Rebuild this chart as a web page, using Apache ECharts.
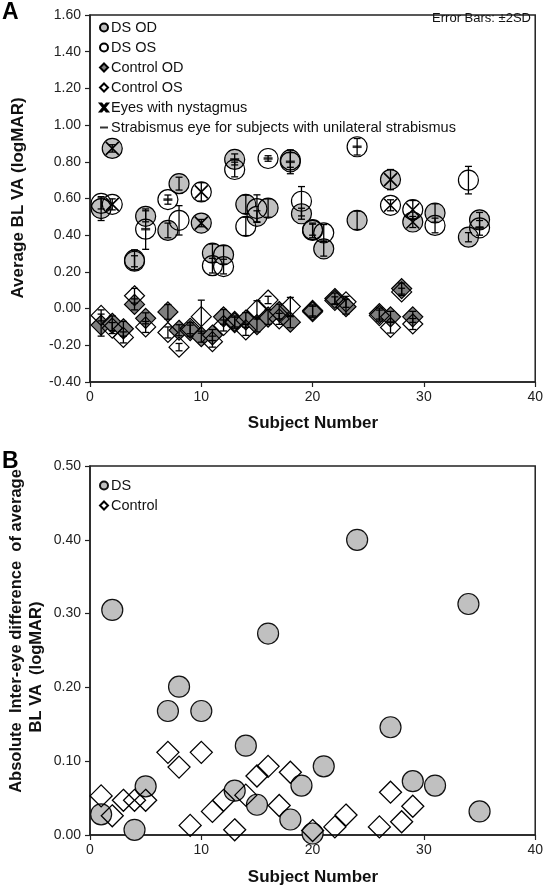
<!DOCTYPE html>
<html><head><meta charset="utf-8">
<script src="https://cdn.jsdelivr.net/npm/echarts@6/dist/echarts.min.js"></script>
<style>html,body{margin:0;padding:0;background:#fff}#c{width:546px;height:889px}</style>
</head><body><div id="c"></div>
<script>
// ---------- DATA ----------
const dsSubjects = [1,2,4,5,7,8,10,11,12,13,14,15,16,18,19,20,21,24,27,29,31,34,35];
const dsOD      = [0.545,0.873,0.265,0.503,0.426,0.681,0.466,0.302,0.293,0.813,0.568,0.503,0.548,0.800,0.517,0.426,0.326,0.481,0.703,0.472,0.521,0.389,0.484];
const dsODErr   = [0.065,0.020,0.055,0.030,0.040,0.035,0.020,0.050,0.050,0.030,0.050,0.030,0.050,0.065,0.030,0.040,0.040,0.050,0.055,0.030,0.050,0.025,0.040];
const dsOS      = [0.573,0.568,0.258,0.433,0.594,0.481,0.636,0.234,0.229,0.758,0.448,0.545,0.818,0.810,0.585,0.430,0.413,0.882,0.563,0.539,0.453,0.700,0.440];
const dsOSErr   = [0.030,0.030,0.030,0.110,0.025,0.080,0.050,0.040,0.040,0.040,0.050,0.075,0.015,0.040,0.080,0.030,0.045,0.045,0.030,0.050,0.040,0.075,0.040];

const ctrlSubjects = [1,2,3,4,5,7,8,9,10,11,12,13,14,15,16,17,18,20,22,23,26,27,28,29];
const ctrlOD    = [-0.090,-0.080,-0.110,0.023,-0.053,-0.018,-0.118,-0.120,-0.153,-0.144,-0.045,-0.070,-0.062,-0.087,-0.046,-0.016,-0.074,-0.010,0.055,0.010,-0.027,-0.045,0.109,-0.045];
const ctrlODErr = [0.060,0.040,0.040,0.030,0.030,0.040,0.030,0.030,0.030,0.030,0.040,0.030,0.040,0.040,0.040,0.040,0.030,0.030,0.030,0.040,0.030,0.030,0.030,0.030];
const ctrlOS    = [-0.037,-0.106,-0.157,0.070,-0.100,-0.130,-0.210,-0.107,-0.044,-0.180,-0.092,-0.077,-0.116,-0.007,0.047,-0.056,0.011,-0.017,0.044,0.037,-0.038,-0.103,0.091,-0.084];
const ctrlOSErr = [0.030,0.030,0.030,0.040,0.030,0.030,0.020,0.030,0.090,0.030,0.030,0.030,0.030,0.050,0.020,0.030,0.050,0.030,0.020,0.030,0.030,0.030,0.020,0.030];

const nystagmusEyes  = [[2,'OD'],[2,'OS'],[10,'OD'],[10,'OS'],[27,'OD'],[27,'OS'],[29,'OD'],[29,'OS']];
const strabismusEyes = [[5,'OS'],[7,'OS'],[13,'OD'],[16,'OS'],[18,'OD'],[24,'OS'],[35,'OS']];

const diffDSSubjects = [1,2,4,5,7,8,10,13,14,15,16,18,19,20,21,24,27,29,31,34,35];
const diffDS         = [0.028,0.305,0.007,0.066,0.168,0.201,0.168,0.060,0.121,0.041,0.273,0.021,0.067,0.002,0.093,0.400,0.146,0.073,0.067,0.313,0.032];
const diffCtrlSubjects = [1,2,3,4,5,7,8,9,10,11,12,13,14,15,16,17,18,20,22,23,26,27,28,29];
const diffCtrl         = [0.053,0.026,0.047,0.047,0.047,0.112,0.092,0.013,0.112,0.032,0.047,0.007,0.054,0.080,0.093,0.040,0.085,0.006,0.011,0.027,0.011,0.058,0.018,0.039];

const xTicksMin = 0, xTicksMax = 40, xTicksStep = 10;
const yTopMin = -0.4, yTopMax = 1.6, yTopStep = 0.2;
const yBotMin = 0, yBotMax = 0.5, yBotStep = 0.1;

// ---------- BUILD ----------
const FONT = 'Liberation Sans, Arial, sans-serif';
const pts = (xs, ys) => xs.map((s,i)=>[s, ys[i]]);
const errPts = (xs, ys, es) => xs.map((s,i)=>[s, ys[i], es[i]]);
const eyeVal = (s, eye) => { const i = dsSubjects.indexOf(s); return eye==='OD' ? dsOD[i] : dsOS[i]; };

function errRender(params, api){
  const x = api.value(0), y = api.value(1), e = api.value(2);
  const t = api.coord([x, y+e]), b = api.coord([x, y-e]);
  const w = 3.5, st = {stroke:'#000', lineWidth:1.3};
  return {type:'group', children:[
    {type:'line', shape:{x1:t[0],y1:t[1],x2:b[0],y2:b[1]}, style:st},
    {type:'line', shape:{x1:t[0]-w,y1:t[1],x2:t[0]+w,y2:t[1]}, style:st},
    {type:'line', shape:{x1:b[0]-w,y1:b[1],x2:b[0]+w,y2:b[1]}, style:st}
  ]};
}
const errSeries = (data, z) => ({type:'custom', xAxisIndex:0, yAxisIndex:0, renderItem:errRender,
  encode:{x:0,y:1}, data, z, silent:true});

const axisCommon = {
  axisLine:{show:true, onZero:false, lineStyle:{color:'#222', width:1.5}},
  axisTick:{show:true, inside:false, length:5, lineStyle:{color:'#222', width:1.2}},
  splitLine:{show:false},
  axisLabel:{color:'#222', fontSize:14, fontFamily:FONT}
};

const xAx = (gi) => Object.assign({}, axisCommon, {type:'value', gridIndex:gi, min:xTicksMin, max:xTicksMax, interval:xTicksStep,
  axisLabel:Object.assign({}, axisCommon.axisLabel, {margin:8})});
const yAx = (gi, mn, mx, st) => Object.assign({}, axisCommon, {type:'value', gridIndex:gi, min:mn, max:mx, interval:st,
  axisLabel:Object.assign({}, axisCommon.axisLabel, {margin:9, formatter:v=>v.toFixed(2)})});

const X_PATH = 'path://M0,0L10,10M10,0L0,10';
const DASH_PATH = 'path://M0,0L10,0L10,2.6L0,2.6Z';
const X_ICON = 'path://M0,0L2,0L5,3.5L8,0L10,0L6,5L10,10L8,10L5,6.5L2,10L0,10L4,5Z';

const option = {
  animation:false,
  backgroundColor:'#fff',
  grid:[
    {left:90, right:9, top:15, height:367, show:true, borderColor:'#222', borderWidth:1.5, backgroundColor:'transparent'},
    {left:90, right:9, top:466, height:369, show:true, borderColor:'#222', borderWidth:1.5, backgroundColor:'transparent'}
  ],
  xAxis:[xAx(0), xAx(1)],
  yAxis:[yAx(0, yTopMin, yTopMax, yTopStep), yAx(1, yBotMin, yBotMax, yBotStep)],
  legend:[
    {left:94, top:15, orient:'vertical', itemWidth:8, itemHeight:8, itemGap:5, selectedMode:false,
     textStyle:{fontFamily:FONT, fontSize:14.5, color:'#111', padding:[0,0,0,-2]},
     data:[
       {name:'DS OD'},{name:'DS OS'},{name:'Control OD'},{name:'Control OS'},
       {name:'Eyes with nystagmus', icon:X_ICON},
       {name:'Strabismus eye for subjects with unilateral strabismus', icon:'path://M0,4L10,4L10,6.5L0,6.5Z'}
     ]},
    {left:94, top:473, orient:'vertical', itemWidth:8, itemHeight:8, itemGap:5, selectedMode:false,
     textStyle:{fontFamily:FONT, fontSize:14.5, color:'#111', padding:[0,0,0,-2]},
     data:[{name:'DS '},{name:'Control '}]}
  ],
  series:[
    {name:'Control OD', type:'scatter', xAxisIndex:0, yAxisIndex:0, symbol:'diamond', symbolSize:20,
     itemStyle:{color:'#7f7f7f', borderColor:'#000', borderWidth:1.2, opacity:1}, data:pts(ctrlSubjects, ctrlOD), z:2},
    {name:'Control OS', type:'scatter', xAxisIndex:0, yAxisIndex:0, symbol:'diamond', symbolSize:20,
     itemStyle:{color:'rgba(255,255,255,0)', borderColor:'#000', borderWidth:1.2, opacity:1}, data:pts(ctrlSubjects, ctrlOS), z:3},
    {name:'DS OD', type:'scatter', xAxisIndex:0, yAxisIndex:0, symbol:'circle', symbolSize:20,
     itemStyle:{color:'#c0c0c0', borderColor:'#000', borderWidth:1.2, opacity:1}, data:pts(dsSubjects, dsOD), z:4},
    {name:'DS OS', type:'scatter', xAxisIndex:0, yAxisIndex:0, symbol:'circle', symbolSize:20,
     itemStyle:{color:'rgba(255,255,255,0)', borderColor:'#000', borderWidth:1.2, opacity:1}, data:pts(dsSubjects, dsOS), z:5},
    errSeries(errPts(ctrlSubjects, ctrlOD, ctrlODErr), 6),
    errSeries(errPts(ctrlSubjects, ctrlOS, ctrlOSErr), 6),
    errSeries(errPts(dsSubjects, dsOD, dsODErr), 6),
    errSeries(errPts(dsSubjects, dsOS, dsOSErr), 6),
    {name:'Eyes with nystagmus', type:'scatter', xAxisIndex:0, yAxisIndex:0, symbol:X_PATH, symbolSize:13,
     itemStyle:{color:'rgba(0,0,0,0)', borderColor:'#000', borderWidth:1.6, opacity:1},
     data:nystagmusEyes.map(([s,e])=>[s, eyeVal(s,e)]), z:7},
    {name:'Strabismus eye for subjects with unilateral strabismus', type:'scatter', xAxisIndex:0, yAxisIndex:0,
     symbol:DASH_PATH, symbolSize:[9,2.6], itemStyle:{color:'#000'},
     data:strabismusEyes.map(([s,e])=>[s, eyeVal(s,e)]), z:7},
    {name:'DS ', type:'scatter', xAxisIndex:1, yAxisIndex:1, symbol:'circle', symbolSize:21,
     itemStyle:{color:'#c0c0c0', borderColor:'#111', borderWidth:1.2, opacity:1}, data:pts(diffDSSubjects, diffDS), z:3},
    {name:'Control ', type:'scatter', xAxisIndex:1, yAxisIndex:1, symbol:'diamond', symbolSize:22,
     itemStyle:{color:'rgba(255,255,255,0)', borderColor:'#000', borderWidth:1.3, opacity:1}, data:pts(diffCtrlSubjects, diffCtrl), z:4}
  ],
  graphic:[
    {type:'text', left:2, top:1, style:{text:'A', font:'bold 23px '+FONT, fill:'#000'}},
    {type:'text', left:2, top:450, style:{text:'B', font:'bold 23px '+FONT, fill:'#000'}},
    {type:'text', x:531, y:18, style:{text:'Error Bars: \u00b12SD', font:'13px '+FONT, fill:'#111', textAlign:'right', textVerticalAlign:'middle'}},
    {type:'text', x:313, y:423, style:{text:'Subject Number', font:'bold 17px '+FONT, fill:'#111', textAlign:'center', textVerticalAlign:'middle'}},
    {type:'text', x:313, y:877, style:{text:'Subject Number', font:'bold 17px '+FONT, fill:'#111', textAlign:'center', textVerticalAlign:'middle'}},
    {type:'text', x:18, y:198, rotation:Math.PI/2, style:{text:'Average BL VA (logMAR)', font:'bold 17px '+FONT, fill:'#111', textAlign:'center', textVerticalAlign:'middle'}},
    {type:'text', x:16, y:631, rotation:Math.PI/2, style:{text:'Absolute  Inter-eye difference  of average', font:'bold 16.5px '+FONT, fill:'#111', textAlign:'center', textVerticalAlign:'middle'}},
    {type:'text', x:36, y:667, rotation:Math.PI/2, style:{text:'BL VA  (logMAR)', font:'bold 16.5px '+FONT, fill:'#111', textAlign:'center', textVerticalAlign:'middle'}}
  ]
};
const chart = echarts.init(document.getElementById('c'), null, {renderer:'canvas'});
chart.setOption(option);
</script></body></html>
